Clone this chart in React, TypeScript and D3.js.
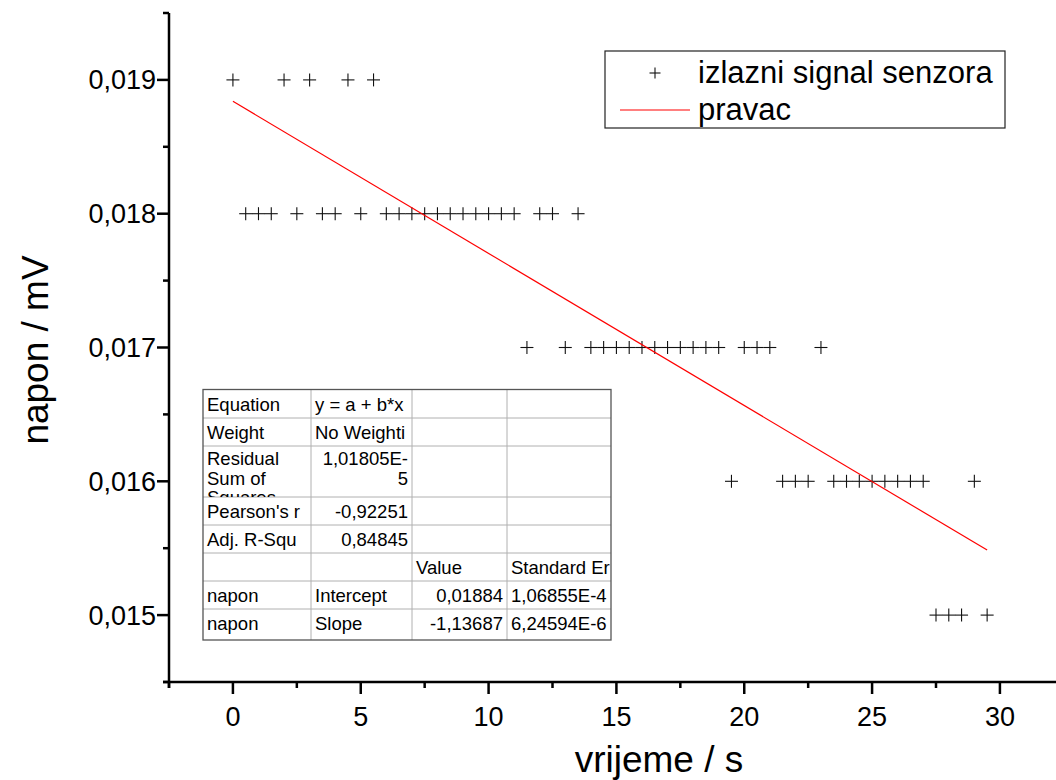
import React from "react";
import * as d3 from "d3";

// ---- data ----
const timeValues = [
  0, 2, 3, 4.5, 5.5,
  0.5, 1, 1.5, 2.5, 3.5, 4, 5, 6, 6.5, 7, 7.5, 8, 8.5, 9, 9.5, 10, 10.5, 11, 12, 12.5, 13.5,
  11.5, 13, 14, 14.5, 15, 15.5, 16, 16.5, 17, 17.5, 18, 18.5, 19, 20, 20.5, 21, 23,
  19.5, 21.5, 22, 22.5, 23.5, 24, 24.5, 25, 25.5, 26, 26.5, 27, 29,
  27.5, 28, 28.5, 29.5,
];
const voltageValues = [
  0.019, 0.019, 0.019, 0.019, 0.019,
  0.018, 0.018, 0.018, 0.018, 0.018, 0.018, 0.018, 0.018, 0.018, 0.018, 0.018, 0.018,
  0.018, 0.018, 0.018, 0.018, 0.018, 0.018, 0.018, 0.018, 0.018,
  0.017, 0.017, 0.017, 0.017, 0.017, 0.017, 0.017, 0.017, 0.017, 0.017, 0.017, 0.017,
  0.017, 0.017, 0.017, 0.017, 0.017,
  0.016, 0.016, 0.016, 0.016, 0.016, 0.016, 0.016, 0.016, 0.016, 0.016, 0.016, 0.016, 0.016,
  0.015, 0.015, 0.015, 0.015,
];
const fitIntercept = 0.01884;
const fitSlope = -1.13687e-4;
const fitRange = [0, 29.5];

const xTicks = [0, 5, 10, 15, 20, 25, 30];
const yTicks = [0.015, 0.016, 0.017, 0.018, 0.019];
const yTickLabels = ["0,015", "0,016", "0,017", "0,018", "0,019"];

const seriesNames = ["izlazni signal senzora", "pravac"];
const xTitle = "vrijeme / s";
const yTitle = "napon / mV";

const tableCol1 = ["Equation", "Weight", "Residual\nSum of\nSquares", "Pearson's r", "Adj. R-Squ", "", "napon", "napon"];
const tableCol2 = ["y = a + b*x", "No Weighti", "1,01805E-\n5", "-0,92251", "0,84845", "", "Intercept", "Slope"];
const tableCol3 = ["", "", "", "", "", "Value", "0,01884", "-1,13687"];
const tableCol4 = ["", "", "", "", "", "Standard Er", "1,06855E-4", "6,24594E-6"];

const FONT = "'Liberation Sans', Arial, sans-serif";

export default function App() {
  const x = d3.scaleLinear().domain([-2.5, 32.5]).range([169, 169 + 35 * (767 / 30)]);
  const y = d3.scaleLinear().domain([0.0145, 0.0195]).range([682, 13]);
  const x0 = x(-2.5);
  const yBase = y(0.0145);

  const xMinor = d3.range(-2.5, 33, 2.5).filter((v) => !xTicks.includes(v));
  const yMinor = d3.range(0.0145, 0.01951, 0.0005).map((v) => +v.toFixed(4)).filter((v) => !yTicks.includes(v));

  const line = d3.line<number>().x((t) => x(t)).y((t) => y(fitIntercept + fitSlope * t));

  const cross = (cx: number, cy: number, s: number, key: any) => (
    <g key={key} stroke="#111" strokeWidth={1.1}>
      <line x1={cx - s} x2={cx + s} y1={cy} y2={cy} />
      <line x1={cx} x2={cx} y1={cy - s} y2={cy + s} />
    </g>
  );

  // table layout
  const tLeft = 203;
  const colX = [203, 311, 412, 507, 611];
  const rowY = [389.5, 418, 446, 497, 525, 553, 581, 609, 640];
  const rightAlignCol2 = [false, false, true, true, true, false, false, false];
  const rightAlignCol3 = [false, false, false, false, false, false, true, true];

  const renderCell = (txt: string, ci: number, ri: number, right: boolean) => {
    if (!txt) return null;
    const lines = txt.split("\n");
    const xl = right ? colX[ci + 1] - 4 : colX[ci] + 4;
    const multi = lines.length > 1;
    return (
      <text
        key={`c${ci}-${ri}`}
        x={xl}
        y={rowY[ri] + (multi ? 19 : 21)}
        fontSize={18.5}
        textAnchor={right ? "end" : "start"}
        clipPath={`url(#cell${ci}-${ri})`}
      >
        {lines.map((l, i) => (
          <tspan key={i} x={xl} dy={i === 0 ? 0 : 19.5}>
            {l}
          </tspan>
        ))}
      </text>
    );
  };

  return (
    <svg
      width={1056}
      height={780}
      style={{ position: "absolute", left: 0, top: 0, background: "#fff" }}
      fontFamily={FONT}
    >
      <defs>
        {rowY.slice(0, -1).map((ry, ri) =>
          colX.slice(0, -1).map((cx, ci) => (
            <clipPath id={`cell${ci}-${ri}`} key={`cp${ci}-${ri}`}>
              <rect x={cx + 1} y={ry + 1} width={colX[ci + 1] - cx - 1} height={rowY[ri + 1] - ry - 1} />
            </clipPath>
          ))
        )}
      </defs>
      <rect width={1056} height={780} fill="#fff" />

      {/* axes */}
      <line x1={x0} x2={x0} y1={y(0.0195)} y2={yBase + 6} stroke="#000" strokeWidth={2.5} />
      <line x1={x0 - 6} x2={1056} y1={yBase} y2={yBase} stroke="#000" strokeWidth={2.5} />
      {xTicks.map((t) => (
        <g key={`xt${t}`}>
          <line x1={x(t)} x2={x(t)} y1={yBase} y2={yBase + 12} stroke="#000" strokeWidth={2.5} />
          <text x={x(t)} y={yBase + 44} fontSize={27} textAnchor="middle">
            {t}
          </text>
        </g>
      ))}
      {xMinor.map((t) => (
        <line key={`xm${t}`} x1={x(t)} x2={x(t)} y1={yBase} y2={yBase + 6} stroke="#000" strokeWidth={2.5} />
      ))}
      {yTicks.map((t, i) => (
        <g key={`yt${t}`}>
          <line x1={x0 - 12} x2={x0} y1={y(t)} y2={y(t)} stroke="#000" strokeWidth={2.5} />
          <text x={x0 - 13} y={y(t) + 9.5} fontSize={27} textAnchor="end">
            {yTickLabels[i]}
          </text>
        </g>
      ))}
      {yMinor.map((t) => (
        <line key={`ym${t}`} x1={x0 - 6} x2={x0} y1={y(t)} y2={y(t)} stroke="#000" strokeWidth={2.5} />
      ))}

      <text x={659} y={772} fontSize={37} textAnchor="middle">
        {xTitle}
      </text>
      <text transform={`translate(48,350) rotate(-90)`} fontSize={37} textAnchor="middle">
        {yTitle}
      </text>

      {/* data */}
      {timeValues.map((t, i) => cross(x(t), y(voltageValues[i]), 6.5, `p${i}`))}
      <path d={line(fitRange) || ""} fill="none" stroke="#ff0000" strokeWidth={1.2} />

      {/* legend */}
      <rect x={605} y={51} width={400} height={77} fill="#fff" stroke="#222" strokeWidth={1.2} />
      {cross(655, 73, 5.5, "lg")}
      <text x={698} y={83} fontSize={31}>
        {seriesNames[0]}
      </text>
      <line x1={620} x2={690} y1={110} y2={110} stroke="#ff0000" strokeWidth={1.2} />
      <text x={698} y={120} fontSize={31}>
        {seriesNames[1]}
      </text>

      {/* table */}
      <rect x={tLeft} y={rowY[0]} width={colX[4] - tLeft} height={rowY[8] - rowY[0]} fill="#fff" />
      {rowY.slice(1, -1).map((ry, i) => (
        <line key={`rl${i}`} x1={tLeft} x2={colX[4]} y1={ry} y2={ry} stroke="#b0b0b0" strokeWidth={1} />
      ))}
      {colX.slice(1, -1).map((cx, i) => (
        <line key={`cl${i}`} x1={cx} x2={cx} y1={rowY[0]} y2={rowY[8]} stroke="#b0b0b0" strokeWidth={1} />
      ))}
      <rect x={tLeft} y={rowY[0]} width={colX[4] - tLeft} height={rowY[8] - rowY[0]} fill="none" stroke="#555" strokeWidth={1.3} />
      {tableCol1.map((t, i) => renderCell(t, 0, i, false))}
      {tableCol2.map((t, i) => renderCell(t, 1, i, rightAlignCol2[i]))}
      {tableCol3.map((t, i) => renderCell(t, 2, i, rightAlignCol3[i]))}
      {tableCol4.map((t, i) => renderCell(t, 3, i, false))}
    </svg>
  );
}
